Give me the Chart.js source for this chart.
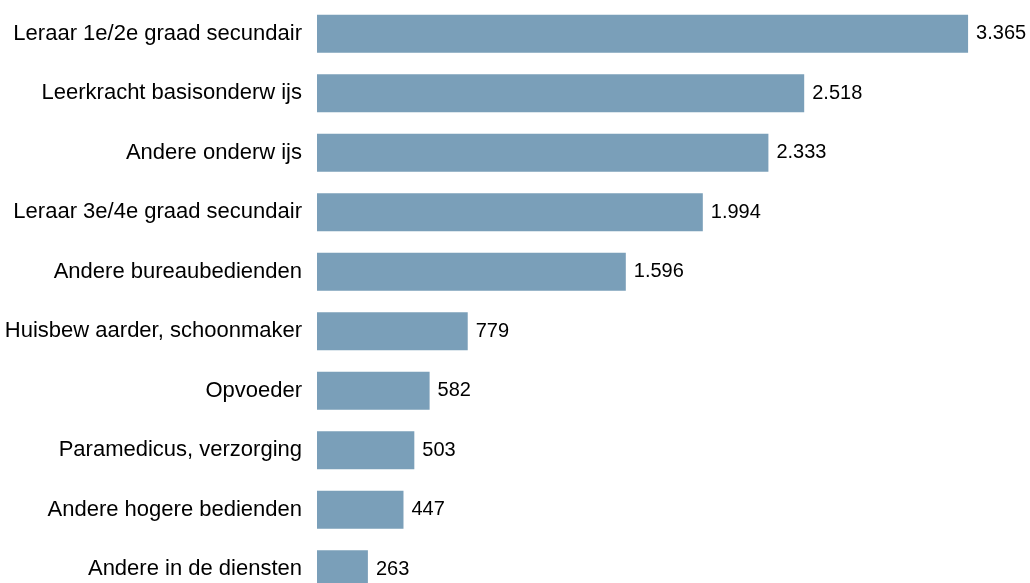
<!DOCTYPE html>
<html>
<head>
<meta charset="utf-8">
<script src="https://cdn.jsdelivr.net/npm/chart.js@4/dist/chart.umd.min.js"></script>
<style>
  html, body { margin: 0; padding: 0; background: #fff; overflow: hidden; }
  #jobChart { position: absolute; left: 0; top: 0; }
</style>
</head>
<body>
<canvas id="jobChart" width="1030" height="600"></canvas>
<script>
const categories = [
  'Leraar 1e/2e graad secundair',
  'Leerkracht basisonderw ijs',
  'Andere onderw ijs',
  'Leraar 3e/4e graad secundair',
  'Andere bureaubedienden',
  'Huisbew aarder, schoonmaker',
  'Opvoeder',
  'Paramedicus, verzorging',
  'Andere hogere bedienden',
  'Andere in de diensten'
];
const counts = [3365, 2518, 2333, 1994, 1596, 779, 582, 503, 447, 263];

function formatNum(v) {
  return String(v).replace(/\B(?=(\d{3})+(?!\d))/g, '.');
}

// draw the number just past the end of each bar
const valueLabels = {
  id: 'valueLabels',
  afterDatasetsDraw(chart) {
    const c = chart.ctx;
    const meta = chart.getDatasetMeta(0);
    c.save();
    c.font = '20px "Liberation Sans", Arial, sans-serif';
    c.fillStyle = '#000';
    c.textAlign = 'left';
    c.textBaseline = 'middle';
    meta.data.forEach((bar, i) => {
      c.fillText(formatNum(counts[i]), bar.x + 8, bar.y);
    });
    c.restore();
  }
};

const ctx = document.getElementById('jobChart').getContext('2d');
new Chart(ctx, {
  type: 'bar',
  data: {
    labels: categories,
    datasets: [{
      data: counts,
      backgroundColor: '#7a9fb9',
      borderWidth: 0,
      categoryPercentage: 0.64,
      barPercentage: 1
    }]
  },
  options: {
    indexAxis: 'y',
    responsive: false,
    animation: false,
    devicePixelRatio: 1,
    layout: { padding: { top: 4, bottom: 1, left: 0, right: 0 } },
    plugins: {
      legend: { display: false },
      tooltip: { enabled: false }
    },
    scales: {
      x: {
        display: false,
        min: 0,
        max: 3685
      },
      y: {
        grid: { display: false, drawTicks: false },
        border: { display: false },
        afterFit(scale) {
          scale.width = 317;
          scale.paddingTop = 0;
          scale.paddingBottom = 0;
        },
        ticks: {
          padding: 15,
          color: '#000',
          font: { family: '"Liberation Sans", Arial, sans-serif', size: 22 }
        }
      }
    }
  },
  plugins: [valueLabels]
});
</script>
</body>
</html>
